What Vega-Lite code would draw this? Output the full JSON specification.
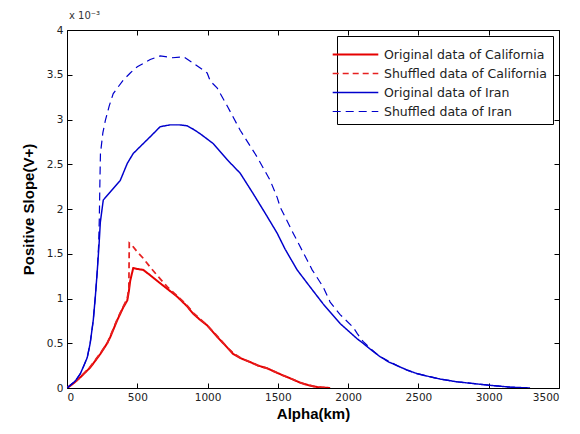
{
  "$schema": "https://vega.github.io/schema/vega-lite/v6.json",
  "width": 492,
  "height": 358,
  "autosize": {"type": "none"},
  "padding": {"left": 67, "top": 30, "right": 21, "bottom": 46},
  "background": "white",
  "config": {
    "font": "DejaVu Sans",
    "view": {"stroke": "black", "strokeWidth": 1},
    "axis": {"grid": false, "domainColor": "black", "tickColor": "black", "labelColor": "#222", "labelFont": "DejaVu Sans", "labelFontSize": 10.5, "titleFont": "Liberation Sans", "titleFontWeight": "bold", "titleFontSize": 15, "titleColor": "black"},
    "legend": {"title": null, "orient": "top-right", "offset": 6, "strokeColor": "black", "fillColor": "white", "padding": 6, "labelFontSize": 12.5, "labelFont": "DejaVu Sans", "labelColor": "#222", "labelLimit": 400, "symbolType": "M-2,0H2", "symbolSize": 520, "labelOffset": 16, "rowPadding": 0, "cornerRadius": 0}
  },
  "title": {"text": "x 10⁻³", "anchor": "start", "frame": "group", "fontSize": 10, "fontWeight": "normal", "color": "#333", "offset": 4, "dx": 2, "font": "DejaVu Sans"},
  "data": {"values": [
    {"series": "Original data of California", "alpha": 0, "slope": 0},
    {"series": "Original data of California", "alpha": 45, "slope": 0.05},
    {"series": "Original data of California", "alpha": 95, "slope": 0.12},
    {"series": "Original data of California", "alpha": 166, "slope": 0.23},
    {"series": "Original data of California", "alpha": 237, "slope": 0.38},
    {"series": "Original data of California", "alpha": 286, "slope": 0.5},
    {"series": "Original data of California", "alpha": 308, "slope": 0.57},
    {"series": "Original data of California", "alpha": 358, "slope": 0.76},
    {"series": "Original data of California", "alpha": 400, "slope": 0.9},
    {"series": "Original data of California", "alpha": 429, "slope": 0.98},
    {"series": "Original data of California", "alpha": 440, "slope": 1.08},
    {"series": "Original data of California", "alpha": 450, "slope": 1.2},
    {"series": "Original data of California", "alpha": 471, "slope": 1.34},
    {"series": "Original data of California", "alpha": 500, "slope": 1.33},
    {"series": "Original data of California", "alpha": 542, "slope": 1.32},
    {"series": "Original data of California", "alpha": 592, "slope": 1.26},
    {"series": "Original data of California", "alpha": 663, "slope": 1.17},
    {"series": "Original data of California", "alpha": 720, "slope": 1.1},
    {"series": "Original data of California", "alpha": 784, "slope": 1.02},
    {"series": "Original data of California", "alpha": 850, "slope": 0.92},
    {"series": "Original data of California", "alpha": 898, "slope": 0.83},
    {"series": "Original data of California", "alpha": 948, "slope": 0.76},
    {"series": "Original data of California", "alpha": 997, "slope": 0.7},
    {"series": "Original data of California", "alpha": 1069, "slope": 0.57},
    {"series": "Original data of California", "alpha": 1130, "slope": 0.47},
    {"series": "Original data of California", "alpha": 1182, "slope": 0.38},
    {"series": "Original data of California", "alpha": 1240, "slope": 0.33},
    {"series": "Original data of California", "alpha": 1303, "slope": 0.29},
    {"series": "Original data of California", "alpha": 1360, "slope": 0.25},
    {"series": "Original data of California", "alpha": 1424, "slope": 0.22},
    {"series": "Original data of California", "alpha": 1480, "slope": 0.18},
    {"series": "Original data of California", "alpha": 1538, "slope": 0.14},
    {"series": "Original data of California", "alpha": 1600, "slope": 0.1},
    {"series": "Original data of California", "alpha": 1658, "slope": 0.06},
    {"series": "Original data of California", "alpha": 1720, "slope": 0.03},
    {"series": "Original data of California", "alpha": 1780, "slope": 0.01},
    {"series": "Original data of California", "alpha": 1872, "slope": 0},

    {"series": "Shuffled data of California", "alpha": 0, "slope": 0},
    {"series": "Shuffled data of California", "alpha": 45, "slope": 0.05},
    {"series": "Shuffled data of California", "alpha": 95, "slope": 0.12},
    {"series": "Shuffled data of California", "alpha": 166, "slope": 0.24},
    {"series": "Shuffled data of California", "alpha": 237, "slope": 0.39},
    {"series": "Shuffled data of California", "alpha": 286, "slope": 0.5},
    {"series": "Shuffled data of California", "alpha": 308, "slope": 0.58},
    {"series": "Shuffled data of California", "alpha": 358, "slope": 0.77},
    {"series": "Shuffled data of California", "alpha": 400, "slope": 0.91},
    {"series": "Shuffled data of California", "alpha": 429, "slope": 1.0},
    {"series": "Shuffled data of California", "alpha": 440, "slope": 1.12},
    {"series": "Shuffled data of California", "alpha": 443, "slope": 1.62},
    {"series": "Shuffled data of California", "alpha": 460, "slope": 1.6},
    {"series": "Shuffled data of California", "alpha": 500, "slope": 1.52},
    {"series": "Shuffled data of California", "alpha": 542, "slope": 1.45},
    {"series": "Shuffled data of California", "alpha": 592, "slope": 1.35},
    {"series": "Shuffled data of California", "alpha": 630, "slope": 1.28},
    {"series": "Shuffled data of California", "alpha": 663, "slope": 1.22},
    {"series": "Shuffled data of California", "alpha": 720, "slope": 1.12},
    {"series": "Shuffled data of California", "alpha": 784, "slope": 1.03},
    {"series": "Shuffled data of California", "alpha": 850, "slope": 0.93},
    {"series": "Shuffled data of California", "alpha": 898, "slope": 0.84},
    {"series": "Shuffled data of California", "alpha": 948, "slope": 0.77},
    {"series": "Shuffled data of California", "alpha": 997, "slope": 0.7},
    {"series": "Shuffled data of California", "alpha": 1069, "slope": 0.58},
    {"series": "Shuffled data of California", "alpha": 1130, "slope": 0.47},
    {"series": "Shuffled data of California", "alpha": 1182, "slope": 0.39},
    {"series": "Shuffled data of California", "alpha": 1240, "slope": 0.33},
    {"series": "Shuffled data of California", "alpha": 1303, "slope": 0.29},
    {"series": "Shuffled data of California", "alpha": 1360, "slope": 0.25},
    {"series": "Shuffled data of California", "alpha": 1424, "slope": 0.22},
    {"series": "Shuffled data of California", "alpha": 1480, "slope": 0.18},
    {"series": "Shuffled data of California", "alpha": 1538, "slope": 0.14},
    {"series": "Shuffled data of California", "alpha": 1600, "slope": 0.1},
    {"series": "Shuffled data of California", "alpha": 1658, "slope": 0.06},
    {"series": "Shuffled data of California", "alpha": 1720, "slope": 0.03},
    {"series": "Shuffled data of California", "alpha": 1780, "slope": 0.01},
    {"series": "Shuffled data of California", "alpha": 1860, "slope": 0},

    {"series": "Original data of Iran", "alpha": 0, "slope": 0},
    {"series": "Original data of Iran", "alpha": 23, "slope": 0.03},
    {"series": "Original data of Iran", "alpha": 60, "slope": 0.08},
    {"series": "Original data of Iran", "alpha": 95, "slope": 0.16},
    {"series": "Original data of Iran", "alpha": 120, "slope": 0.25},
    {"series": "Original data of Iran", "alpha": 144, "slope": 0.34},
    {"series": "Original data of Iran", "alpha": 165, "slope": 0.5},
    {"series": "Original data of Iran", "alpha": 187, "slope": 0.76},
    {"series": "Original data of Iran", "alpha": 201, "slope": 1.01},
    {"series": "Original data of Iran", "alpha": 215, "slope": 1.3},
    {"series": "Original data of Iran", "alpha": 228, "slope": 1.6},
    {"series": "Original data of Iran", "alpha": 237, "slope": 1.85},
    {"series": "Original data of Iran", "alpha": 258, "slope": 2.1},
    {"series": "Original data of Iran", "alpha": 308, "slope": 2.19},
    {"series": "Original data of Iran", "alpha": 379, "slope": 2.32},
    {"series": "Original data of Iran", "alpha": 429, "slope": 2.51},
    {"series": "Original data of Iran", "alpha": 471, "slope": 2.62},
    {"series": "Original data of Iran", "alpha": 542, "slope": 2.73},
    {"series": "Original data of Iran", "alpha": 600, "slope": 2.82},
    {"series": "Original data of Iran", "alpha": 663, "slope": 2.92},
    {"series": "Original data of Iran", "alpha": 734, "slope": 2.94},
    {"series": "Original data of Iran", "alpha": 800, "slope": 2.94},
    {"series": "Original data of Iran", "alpha": 855, "slope": 2.93},
    {"series": "Original data of Iran", "alpha": 900, "slope": 2.89},
    {"series": "Original data of Iran", "alpha": 948, "slope": 2.84},
    {"series": "Original data of Iran", "alpha": 1041, "slope": 2.73},
    {"series": "Original data of Iran", "alpha": 1140, "slope": 2.55},
    {"series": "Original data of Iran", "alpha": 1232, "slope": 2.4},
    {"series": "Original data of Iran", "alpha": 1325, "slope": 2.17},
    {"series": "Original data of Iran", "alpha": 1411, "slope": 1.95},
    {"series": "Original data of Iran", "alpha": 1495, "slope": 1.73},
    {"series": "Original data of Iran", "alpha": 1552, "slope": 1.55},
    {"series": "Original data of Iran", "alpha": 1637, "slope": 1.32},
    {"series": "Original data of Iran", "alpha": 1729, "slope": 1.13},
    {"series": "Original data of Iran", "alpha": 1822, "slope": 0.94},
    {"series": "Original data of Iran", "alpha": 1943, "slope": 0.72},
    {"series": "Original data of Iran", "alpha": 2064, "slope": 0.55},
    {"series": "Original data of Iran", "alpha": 2106, "slope": 0.5},
    {"series": "Original data of Iran", "alpha": 2160, "slope": 0.43},
    {"series": "Original data of Iran", "alpha": 2227, "slope": 0.35},
    {"series": "Original data of Iran", "alpha": 2290, "slope": 0.29},
    {"series": "Original data of Iran", "alpha": 2348, "slope": 0.25},
    {"series": "Original data of Iran", "alpha": 2420, "slope": 0.2},
    {"series": "Original data of Iran", "alpha": 2491, "slope": 0.16},
    {"series": "Original data of Iran", "alpha": 2570, "slope": 0.13},
    {"series": "Original data of Iran", "alpha": 2654, "slope": 0.1},
    {"series": "Original data of Iran", "alpha": 2770, "slope": 0.07},
    {"series": "Original data of Iran", "alpha": 2888, "slope": 0.05},
    {"series": "Original data of Iran", "alpha": 3010, "slope": 0.03},
    {"series": "Original data of Iran", "alpha": 3150, "slope": 0.01},
    {"series": "Original data of Iran", "alpha": 3294, "slope": 0},

    {"series": "Shuffled data of Iran", "alpha": 0, "slope": 0},
    {"series": "Shuffled data of Iran", "alpha": 23, "slope": 0.03},
    {"series": "Shuffled data of Iran", "alpha": 60, "slope": 0.08},
    {"series": "Shuffled data of Iran", "alpha": 95, "slope": 0.16},
    {"series": "Shuffled data of Iran", "alpha": 120, "slope": 0.25},
    {"series": "Shuffled data of Iran", "alpha": 144, "slope": 0.34},
    {"series": "Shuffled data of Iran", "alpha": 165, "slope": 0.5},
    {"series": "Shuffled data of Iran", "alpha": 187, "slope": 0.76},
    {"series": "Shuffled data of Iran", "alpha": 201, "slope": 1.01},
    {"series": "Shuffled data of Iran", "alpha": 215, "slope": 1.3},
    {"series": "Shuffled data of Iran", "alpha": 225, "slope": 1.6},
    {"series": "Shuffled data of Iran", "alpha": 230, "slope": 1.9},
    {"series": "Shuffled data of Iran", "alpha": 234, "slope": 2.3},
    {"series": "Shuffled data of Iran", "alpha": 238, "slope": 2.62},
    {"series": "Shuffled data of Iran", "alpha": 255, "slope": 2.85},
    {"series": "Shuffled data of Iran", "alpha": 273, "slope": 2.99},
    {"series": "Shuffled data of Iran", "alpha": 300, "slope": 3.15},
    {"series": "Shuffled data of Iran", "alpha": 329, "slope": 3.29},
    {"series": "Shuffled data of Iran", "alpha": 400, "slope": 3.44},
    {"series": "Shuffled data of Iran", "alpha": 450, "slope": 3.52},
    {"series": "Shuffled data of Iran", "alpha": 500, "slope": 3.59},
    {"series": "Shuffled data of Iran", "alpha": 592, "slope": 3.67},
    {"series": "Shuffled data of Iran", "alpha": 663, "slope": 3.71},
    {"series": "Shuffled data of Iran", "alpha": 750, "slope": 3.69},
    {"series": "Shuffled data of Iran", "alpha": 830, "slope": 3.7},
    {"series": "Shuffled data of Iran", "alpha": 898, "slope": 3.63},
    {"series": "Shuffled data of Iran", "alpha": 997, "slope": 3.52},
    {"series": "Shuffled data of Iran", "alpha": 1019, "slope": 3.43},
    {"series": "Shuffled data of Iran", "alpha": 1069, "slope": 3.35},
    {"series": "Shuffled data of Iran", "alpha": 1140, "slope": 3.15},
    {"series": "Shuffled data of Iran", "alpha": 1232, "slope": 2.88},
    {"series": "Shuffled data of Iran", "alpha": 1353, "slope": 2.58},
    {"series": "Shuffled data of Iran", "alpha": 1445, "slope": 2.32},
    {"series": "Shuffled data of Iran", "alpha": 1495, "slope": 2.13},
    {"series": "Shuffled data of Iran", "alpha": 1517, "slope": 2.02},
    {"series": "Shuffled data of Iran", "alpha": 1609, "slope": 1.73},
    {"series": "Shuffled data of Iran", "alpha": 1708, "slope": 1.43},
    {"series": "Shuffled data of Iran", "alpha": 1744, "slope": 1.32},
    {"series": "Shuffled data of Iran", "alpha": 1822, "slope": 1.13},
    {"series": "Shuffled data of Iran", "alpha": 1872, "slope": 0.96},
    {"series": "Shuffled data of Iran", "alpha": 1943, "slope": 0.82},
    {"series": "Shuffled data of Iran", "alpha": 2035, "slope": 0.68},
    {"series": "Shuffled data of Iran", "alpha": 2064, "slope": 0.61},
    {"series": "Shuffled data of Iran", "alpha": 2106, "slope": 0.52},
    {"series": "Shuffled data of Iran", "alpha": 2160, "slope": 0.44},
    {"series": "Shuffled data of Iran", "alpha": 2227, "slope": 0.35},
    {"series": "Shuffled data of Iran", "alpha": 2290, "slope": 0.3},
    {"series": "Shuffled data of Iran", "alpha": 2348, "slope": 0.25},
    {"series": "Shuffled data of Iran", "alpha": 2420, "slope": 0.2},
    {"series": "Shuffled data of Iran", "alpha": 2491, "slope": 0.16},
    {"series": "Shuffled data of Iran", "alpha": 2570, "slope": 0.13},
    {"series": "Shuffled data of Iran", "alpha": 2654, "slope": 0.1},
    {"series": "Shuffled data of Iran", "alpha": 2770, "slope": 0.07},
    {"series": "Shuffled data of Iran", "alpha": 2888, "slope": 0.05},
    {"series": "Shuffled data of Iran", "alpha": 3010, "slope": 0.03},
    {"series": "Shuffled data of Iran", "alpha": 3150, "slope": 0.01},
    {"series": "Shuffled data of Iran", "alpha": 3300, "slope": 0}
  ]},
  "layer": [
    {
      "mark": {"type": "line", "clip": true},
      "encoding": {
        "x": {"field": "alpha", "type": "quantitative", "scale": {"domain": [0, 3500], "nice": false},
              "axis": {"title": "Alpha(km)", "values": [0, 500, 1000, 1500, 2000, 2500, 3000, 3500], "format": "d", "tickSize": -5, "labelPadding": 9, "titlePadding": 4, "domain": false}},
        "y": {"field": "slope", "type": "quantitative", "scale": {"domain": [0, 4], "nice": false},
              "axis": {"title": "Positive Slope(V+)", "values": [0, 0.5, 1, 1.5, 2, 2.5, 3, 3.5, 4], "labelExpr": "datum.value", "tickSize": -5, "labelPadding": 9, "titlePadding": 10, "domain": false}},
        "color": {"field": "series", "type": "nominal",
                  "scale": {"domain": ["Original data of California", "Shuffled data of California", "Original data of Iran", "Shuffled data of Iran"], "range": ["#e60000", "#e62020", "#0000cc", "#0000cc"]}},
        "strokeDash": {"field": "series", "type": "nominal",
                  "scale": {"domain": ["Original data of California", "Shuffled data of California", "Original data of Iran", "Shuffled data of Iran"], "range": [[1, 0], [6, 4], [1, 0], [8, 5]]}},
        "strokeWidth": {"field": "series", "type": "nominal",
                  "scale": {"domain": ["Original data of California", "Shuffled data of California", "Original data of Iran", "Shuffled data of Iran"], "range": [2, 1.2, 1.6, 2.6]}}
      }
    },
    {
      "mark": {"type": "rule", "opacity": 0},
      "encoding": {
        "x": {"field": "alpha", "type": "quantitative", "aggregate": "min",
              "axis": {"orient": "top", "title": null, "labels": false, "values": [0, 500, 1000, 1500, 2000, 2500, 3000, 3500], "tickSize": -5, "domain": false}},
        "y": {"field": "slope", "type": "quantitative", "aggregate": "min",
              "axis": {"orient": "right", "title": null, "labels": false, "values": [0, 0.5, 1, 1.5, 2, 2.5, 3, 3.5, 4], "tickSize": -5, "domain": false}}
      }
    }
  ],
  "resolve": {"axis": {"x": "independent", "y": "independent"}}
}
